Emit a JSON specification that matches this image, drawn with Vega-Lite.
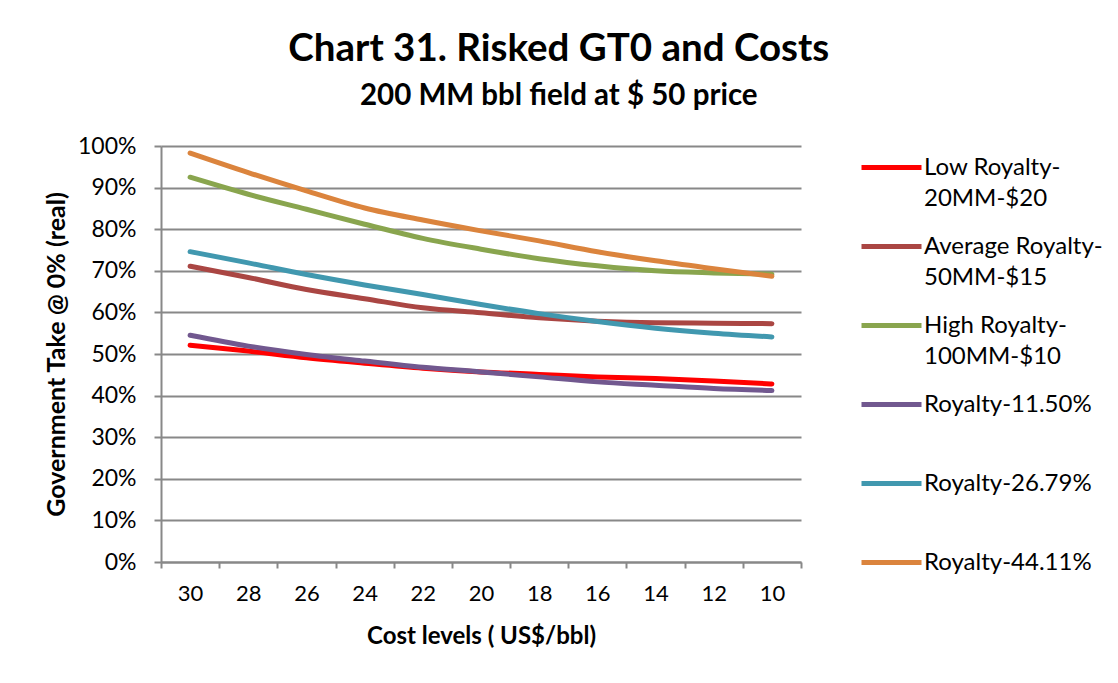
{
  "$schema": "https://vega.github.io/schema/vega-lite/v6.json",
  "width": 640,
  "height": 416,
  "padding": {"left": 44, "top": 30, "right": 5, "bottom": 5},
  "background": "white",
  "title": {
    "text": "Chart 31. Risked GT0 and Costs",
    "subtitle": "200 MM bbl field at $ 50 price",
    "anchor": "middle",
    "frame": "bounds",
    "dx": -15,
    "font": "Lato",
    "fontSize": 38.5,
    "fontWeight": "bold",
    "color": "black",
    "subtitleFont": "Lato",
    "subtitleFontSize": 29.5,
    "subtitleFontWeight": "bold",
    "subtitleColor": "black",
    "subtitlePadding": 12,
    "offset": 24
  },
  "data": {
    "values": [
      {"cost": 30, "series": "Low Royalty-20MM-$20", "value": 0.521},
      {"cost": 28, "series": "Low Royalty-20MM-$20", "value": 0.507},
      {"cost": 26, "series": "Low Royalty-20MM-$20", "value": 0.491},
      {"cost": 24, "series": "Low Royalty-20MM-$20", "value": 0.478},
      {"cost": 22, "series": "Low Royalty-20MM-$20", "value": 0.466},
      {"cost": 20, "series": "Low Royalty-20MM-$20", "value": 0.457},
      {"cost": 18, "series": "Low Royalty-20MM-$20", "value": 0.451},
      {"cost": 16, "series": "Low Royalty-20MM-$20", "value": 0.445},
      {"cost": 14, "series": "Low Royalty-20MM-$20", "value": 0.441},
      {"cost": 12, "series": "Low Royalty-20MM-$20", "value": 0.435},
      {"cost": 10, "series": "Low Royalty-20MM-$20", "value": 0.428},
      {"cost": 30, "series": "Average Royalty-50MM-$15", "value": 0.711},
      {"cost": 28, "series": "Average Royalty-50MM-$15", "value": 0.684},
      {"cost": 26, "series": "Average Royalty-50MM-$15", "value": 0.655},
      {"cost": 24, "series": "Average Royalty-50MM-$15", "value": 0.633},
      {"cost": 22, "series": "Average Royalty-50MM-$15", "value": 0.611},
      {"cost": 20, "series": "Average Royalty-50MM-$15", "value": 0.599},
      {"cost": 18, "series": "Average Royalty-50MM-$15", "value": 0.587},
      {"cost": 16, "series": "Average Royalty-50MM-$15", "value": 0.579},
      {"cost": 14, "series": "Average Royalty-50MM-$15", "value": 0.575},
      {"cost": 12, "series": "Average Royalty-50MM-$15", "value": 0.574},
      {"cost": 10, "series": "Average Royalty-50MM-$15", "value": 0.573},
      {"cost": 30, "series": "High Royalty-100MM-$10", "value": 0.925},
      {"cost": 28, "series": "High Royalty-100MM-$10", "value": 0.884},
      {"cost": 26, "series": "High Royalty-100MM-$10", "value": 0.848},
      {"cost": 24, "series": "High Royalty-100MM-$10", "value": 0.812},
      {"cost": 22, "series": "High Royalty-100MM-$10", "value": 0.778},
      {"cost": 20, "series": "High Royalty-100MM-$10", "value": 0.752},
      {"cost": 18, "series": "High Royalty-100MM-$10", "value": 0.729},
      {"cost": 16, "series": "High Royalty-100MM-$10", "value": 0.712},
      {"cost": 14, "series": "High Royalty-100MM-$10", "value": 0.700},
      {"cost": 12, "series": "High Royalty-100MM-$10", "value": 0.695},
      {"cost": 10, "series": "High Royalty-100MM-$10", "value": 0.692},
      {"cost": 30, "series": "Royalty-11.50%", "value": 0.545},
      {"cost": 28, "series": "Royalty-11.50%", "value": 0.519},
      {"cost": 26, "series": "Royalty-11.50%", "value": 0.499},
      {"cost": 24, "series": "Royalty-11.50%", "value": 0.483},
      {"cost": 22, "series": "Royalty-11.50%", "value": 0.468},
      {"cost": 20, "series": "Royalty-11.50%", "value": 0.457},
      {"cost": 18, "series": "Royalty-11.50%", "value": 0.445},
      {"cost": 16, "series": "Royalty-11.50%", "value": 0.433},
      {"cost": 14, "series": "Royalty-11.50%", "value": 0.425},
      {"cost": 12, "series": "Royalty-11.50%", "value": 0.417},
      {"cost": 10, "series": "Royalty-11.50%", "value": 0.412},
      {"cost": 30, "series": "Royalty-26.79%", "value": 0.746},
      {"cost": 28, "series": "Royalty-26.79%", "value": 0.719},
      {"cost": 26, "series": "Royalty-26.79%", "value": 0.691},
      {"cost": 24, "series": "Royalty-26.79%", "value": 0.666},
      {"cost": 22, "series": "Royalty-26.79%", "value": 0.643},
      {"cost": 20, "series": "Royalty-26.79%", "value": 0.619},
      {"cost": 18, "series": "Royalty-26.79%", "value": 0.597},
      {"cost": 16, "series": "Royalty-26.79%", "value": 0.578},
      {"cost": 14, "series": "Royalty-26.79%", "value": 0.562},
      {"cost": 12, "series": "Royalty-26.79%", "value": 0.550},
      {"cost": 10, "series": "Royalty-26.79%", "value": 0.541},
      {"cost": 30, "series": "Royalty-44.11%", "value": 0.983},
      {"cost": 28, "series": "Royalty-44.11%", "value": 0.936},
      {"cost": 26, "series": "Royalty-44.11%", "value": 0.892},
      {"cost": 24, "series": "Royalty-44.11%", "value": 0.851},
      {"cost": 22, "series": "Royalty-44.11%", "value": 0.822},
      {"cost": 20, "series": "Royalty-44.11%", "value": 0.796},
      {"cost": 18, "series": "Royalty-44.11%", "value": 0.772},
      {"cost": 16, "series": "Royalty-44.11%", "value": 0.746},
      {"cost": 14, "series": "Royalty-44.11%", "value": 0.724},
      {"cost": 12, "series": "Royalty-44.11%", "value": 0.705},
      {"cost": 10, "series": "Royalty-44.11%", "value": 0.687}
    ]
  },
  "mark": {"type": "line", "interpolate": "monotone", "strokeWidth": 5, "strokeCap": "round"},
  "encoding": {
    "x": {
      "field": "cost",
      "type": "ordinal",
      "sort": "descending",
      "bandPosition": 0.5,
      "scale": {"type": "band", "paddingInner": 0, "paddingOuter": 0},
      "axis": {
        "title": "Cost levels ( US$/bbl)",
        "titleFont": "Lato",
        "titleFontSize": 24,
        "titleFontWeight": "bold",
        "titleColor": "black",
        "titlePadding": 20,
        "labelFont": "Lato",
        "labelFontSize": 22,
        "labelColor": "black",
        "labelAngle": 0,
        "labelPadding": 15,
        "tickBand": "extent",
        "tickSize": 6,
        "tickColor": "#888888",
        "tickWidth": 2,
        "domainColor": "#888888",
        "domainWidth": 2,
        "grid": false
      }
    },
    "y": {
      "field": "value",
      "type": "quantitative",
      "scale": {"domain": [0, 1], "nice": false},
      "axis": {
        "title": "Government Take @ 0% (real)",
        "titleFont": "Lato",
        "titleFontSize": 25,
        "titleFontWeight": "bold",
        "titleColor": "black",
        "titlePadding": 8,
        "format": ".0%",
        "values": [0, 0.1, 0.2, 0.3, 0.4, 0.5, 0.6, 0.7, 0.8, 0.9, 1],
        "labelFont": "Lato",
        "labelFontSize": 23,
        "labelColor": "black",
        "labelPadding": 18,
        "tickSize": 7,
        "tickColor": "#888888",
        "tickWidth": 2,
        "domainColor": "#888888",
        "domainWidth": 2,
        "grid": true,
        "gridColor": "#888888",
        "gridWidth": 2
      }
    },
    "color": {
      "field": "series",
      "type": "nominal",
      "sort": ["Low Royalty-20MM-$20", "Average Royalty-50MM-$15", "High Royalty-100MM-$10", "Royalty-11.50%", "Royalty-26.79%", "Royalty-44.11%"],
      "scale": {
        "domain": ["Low Royalty-20MM-$20", "Average Royalty-50MM-$15", "High Royalty-100MM-$10", "Royalty-11.50%", "Royalty-26.79%", "Royalty-44.11%"],
        "range": ["#FF0000", "#AA4643", "#89A54E", "#71588F", "#4198AF", "#DB843D"]
      },
      "legend": {
        "title": null,
        "orient": "none",
        "legendX": 698,
        "legendY": -11,
        "gridAlign": "all",
        "symbolType": "stroke",
        "symbolSize": 3600,
        "symbolStrokeWidth": 5,
        "labelFont": "Lato",
        "labelFontSize": 24,
        "labelColor": "black",
        "labelLimit": 300,
        "labelOffset": 0,
        "rowPadding": 3,
        "labelExpr": "datum.label == 'Low Royalty-20MM-$20' ? ['Low Royalty-', '20MM-$20'] : datum.label == 'Average Royalty-50MM-$15' ? ['Average Royalty-', '50MM-$15'] : datum.label == 'High Royalty-100MM-$10' ? ['High Royalty-', '100MM-$10'] : datum.label"
      }
    }
  },
  "config": {
    "view": {"stroke": null},
    "font": "Lato",
    "style": {"guide-label": {"lineHeight": 31}}
  }
}
